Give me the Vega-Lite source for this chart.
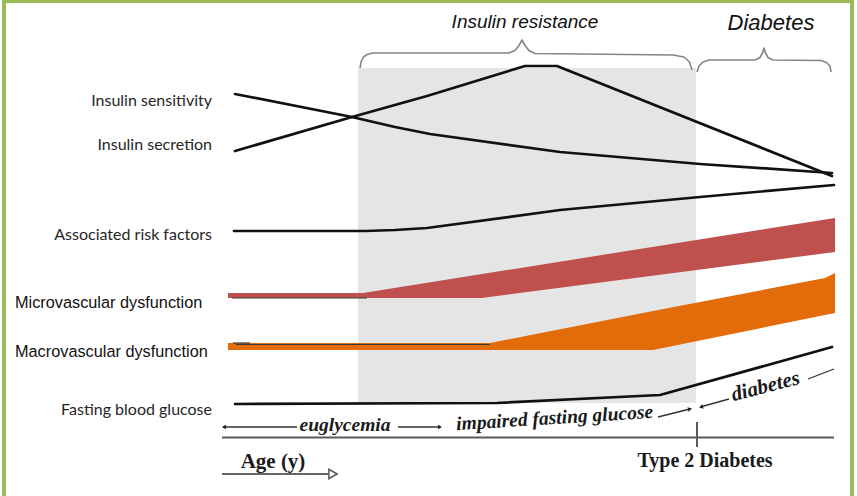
{
 "$schema": "https://vega.github.io/schema/vega-lite/v6.json",
 "width": 857, "height": 496, "padding": 0,
 "autosize": {"type": "none"},
 "background": "white",
 "config": {"view": {"stroke": null}},
 "datasets": {
  "frame": [{"x": 4, "y": 1, "x2": 852, "y2": 512}],
  "shade": [{"x": 358, "y": 68, "x2": 696, "y2": 403}],
  "braces": [
   {"id": "ir", "x": 360, "y": 68}, {"id": "ir", "x": 361, "y": 62}, {"id": "ir", "x": 363.5, "y": 57}, {"id": "ir", "x": 367, "y": 54.5}, {"id": "ir", "x": 373, "y": 53}, {"id": "ir", "x": 509, "y": 53}, {"id": "ir", "x": 515, "y": 50.5}, {"id": "ir", "x": 519, "y": 45.5}, {"id": "ir", "x": 522, "y": 40}, {"id": "ir", "x": 525, "y": 45.5}, {"id": "ir", "x": 529, "y": 50.5}, {"id": "ir", "x": 535, "y": 53.5}, {"id": "ir", "x": 673, "y": 55}, {"id": "ir", "x": 684, "y": 57}, {"id": "ir", "x": 689.5, "y": 62}, {"id": "ir", "x": 692, "y": 70},
   {"id": "dm", "x": 697, "y": 72}, {"id": "dm", "x": 699, "y": 66}, {"id": "dm", "x": 703, "y": 62}, {"id": "dm", "x": 709, "y": 60}, {"id": "dm", "x": 755, "y": 60}, {"id": "dm", "x": 760, "y": 57.5}, {"id": "dm", "x": 762.5, "y": 53}, {"id": "dm", "x": 764, "y": 48}, {"id": "dm", "x": 765.5, "y": 53}, {"id": "dm", "x": 768, "y": 57.5}, {"id": "dm", "x": 773, "y": 60}, {"id": "dm", "x": 821, "y": 60.5}, {"id": "dm", "x": 826.5, "y": 62.5}, {"id": "dm", "x": 830, "y": 66}, {"id": "dm", "x": 831, "y": 72}
  ],
  "curves": [
   {"s": "sens", "x": 235, "y": 94}, {"s": "sens", "x": 352, "y": 117}, {"s": "sens", "x": 395, "y": 127}, {"s": "sens", "x": 430, "y": 134}, {"s": "sens", "x": 560, "y": 152}, {"s": "sens", "x": 700, "y": 164}, {"s": "sens", "x": 832, "y": 173},
   {"s": "sec", "x": 235, "y": 151}, {"s": "sec", "x": 352, "y": 117}, {"s": "sec", "x": 427, "y": 96}, {"s": "sec", "x": 525, "y": 66}, {"s": "sec", "x": 557, "y": 66}, {"s": "sec", "x": 832, "y": 176},
   {"s": "risk", "x": 234, "y": 231}, {"s": "risk", "x": 365, "y": 231}, {"s": "risk", "x": 395, "y": 230}, {"s": "risk", "x": 427, "y": 228}, {"s": "risk", "x": 560, "y": 210}, {"s": "risk", "x": 700, "y": 197}, {"s": "risk", "x": 834, "y": 185},
   {"s": "fbg", "x": 235, "y": 404}, {"s": "fbg", "x": 497, "y": 403}, {"s": "fbg", "x": 660, "y": 395}, {"s": "fbg", "x": 832, "y": 347}
  ],
  "red": [{"x": 228, "y": 293, "y2": 298}, {"x": 363, "y": 293, "y2": 298}, {"x": 482, "y": 274, "y2": 298}, {"x": 835, "y": 218, "y2": 252}],
  "orange": [{"x": 228, "y": 343, "y2": 350}, {"x": 490, "y": 343, "y2": 350}, {"x": 653, "y": 311, "y2": 350}, {"x": 825, "y": 278, "y2": 315}, {"x": 835, "y": 273, "y2": 313}],
  "edges": [{"x": 232, "y": 298, "x2": 367, "y2": 298}, {"x": 236, "y": 344.5, "x2": 490, "y2": 344.5}, {"x": 233, "y": 343, "x2": 250, "y2": 343}],
  "arrows": [
   {"x": 223, "y": 427, "x2": 297, "y2": 427}, {"x": 398, "y": 427, "x2": 438, "y2": 427},
   {"x": 658, "y": 417, "x2": 688, "y2": 409.5}, {"x": 702, "y": 406.5, "x2": 729, "y2": 399},
   {"x": 808, "y": 379, "x2": 834, "y2": 369}, {"x": 222, "y": 474, "x2": 328, "y2": 474}
  ],
  "axisSegs": [{"x": 222, "y": 437.5, "x2": 834, "y2": 437.5}, {"x": 697, "y": 422, "x2": 697, "y2": 447}],
  "heads": [{"x": 224, "y": 427, "dir": 180}, {"x": 440, "y": 427, "dir": 0}, {"x": 690, "y": 409, "dir": -14}, {"x": 701, "y": 407, "dir": 165}],
  "ageHead": [{"x": 333, "y": 474}],
  "lblCal": [{"x": 212, "y": 106, "t": "Insulin sensitivity"}, {"x": 212, "y": 150, "t": "Insulin secretion"}, {"x": 212, "y": 240, "t": "Associated risk factors"}, {"x": 212, "y": 415, "t": "Fasting blood glucose"}],
  "lblArial": [{"x": 15, "y": 308, "t": "Microvascular dysfunction"}, {"x": 15, "y": 357, "t": "Macrovascular dysfunction"}],
  "phaseIR": [{"x": 525, "y": 28, "t": "Insulin resistance"}],
  "phaseDM": [{"x": 771, "y": 30, "t": "Diabetes"}],
  "eug": [{"x": 345, "y": 431, "t": "euglycemia"}],
  "ifg": [{"x": 555, "y": 424, "t": "impaired fasting glucose"}],
  "diab": [{"x": 767, "y": 392.5, "t": "diabetes"}],
  "age": [{"x": 273, "y": 468, "t": "Age (y)"}],
  "t2d": [{"x": 705, "y": 467, "t": "Type 2 Diabetes"}]
 },
 "encoding": {
  "x": {"field": "x", "type": "quantitative", "scale": {"domain": [0, 857], "nice": false, "zero": false}, "axis": null},
  "y": {"field": "y", "type": "quantitative", "scale": {"domain": [0, 496], "nice": false, "zero": false, "reverse": true}, "axis": null}
 },
 "layer": [
  {"data": {"name": "shade"}, "mark": {"type": "rect", "fill": "#e5e5e5"}, "encoding": {"x2": {"field": "x2"}, "y2": {"field": "y2"}}},
  {"data": {"name": "braces"}, "mark": {"type": "line", "stroke": "#858585", "strokeWidth": 1.6, "strokeJoin": "round"}, "encoding": {"detail": {"field": "id"}}},
  {"data": {"name": "red"}, "mark": {"type": "area", "fill": "#c0504d", "opacity": 1}, "encoding": {"y2": {"field": "y2"}}},
  {"data": {"name": "orange"}, "mark": {"type": "area", "fill": "#e36c0a", "opacity": 1}, "encoding": {"y2": {"field": "y2"}}},
  {"data": {"name": "edges"}, "mark": {"type": "rule", "stroke": "#3a3a3a", "strokeWidth": 1.2}, "encoding": {"x2": {"field": "x2"}, "y2": {"field": "y2"}}},
  {"data": {"name": "curves"}, "mark": {"type": "line", "stroke": "#111111", "strokeWidth": 2.7, "strokeJoin": "round", "strokeCap": "round"}, "encoding": {"detail": {"field": "s"}}},
  {"data": {"name": "axisSegs"}, "mark": {"type": "rule", "stroke": "#5a5a5a", "strokeWidth": 2}, "encoding": {"x2": {"field": "x2"}, "y2": {"field": "y2"}}},
  {"data": {"name": "arrows"}, "mark": {"type": "rule", "stroke": "#333333", "strokeWidth": 1.3}, "encoding": {"x2": {"field": "x2"}, "y2": {"field": "y2"}}},
  {"data": {"name": "heads"}, "mark": {"type": "point", "shape": "triangle-right", "filled": true, "fill": "#222222", "size": 22, "opacity": 1}, "encoding": {"angle": {"field": "dir", "type": "quantitative", "scale": null}}},
  {"data": {"name": "ageHead"}, "mark": {"type": "point", "shape": "triangle-right", "filled": false, "fill": "white", "stroke": "#555555", "strokeWidth": 1.5, "size": 90, "opacity": 1}},
  {"data": {"name": "frame"}, "mark": {"type": "rect", "fill": null, "stroke": "#9bbb59", "strokeWidth": 4}, "encoding": {"x2": {"field": "x2"}, "y2": {"field": "y2"}}},
  {"data": {"name": "lblCal"}, "mark": {"type": "text", "font": "Lato", "fontSize": 16, "align": "right", "baseline": "alphabetic", "fill": "#262626"}, "encoding": {"text": {"field": "t"}}},
  {"data": {"name": "lblArial"}, "mark": {"type": "text", "font": "Liberation Sans", "fontSize": 16.3, "align": "left", "baseline": "alphabetic", "fill": "#111111"}, "encoding": {"text": {"field": "t"}}},
  {"data": {"name": "phaseIR"}, "mark": {"type": "text", "font": "Liberation Sans", "fontStyle": "italic", "fontSize": 19, "align": "center", "baseline": "alphabetic", "fill": "#111111"}, "encoding": {"text": {"field": "t"}}},
  {"data": {"name": "phaseDM"}, "mark": {"type": "text", "font": "Liberation Sans", "fontStyle": "italic", "fontSize": 22, "align": "center", "baseline": "alphabetic", "fill": "#111111"}, "encoding": {"text": {"field": "t"}}},
  {"data": {"name": "eug"}, "mark": {"type": "text", "font": "Liberation Serif", "fontStyle": "italic", "fontWeight": "bold", "fontSize": 19.5, "align": "center", "baseline": "alphabetic", "fill": "#1a1a1a"}, "encoding": {"text": {"field": "t"}}},
  {"data": {"name": "ifg"}, "mark": {"type": "text", "font": "Liberation Serif", "fontStyle": "italic", "fontWeight": "bold", "fontSize": 19.5, "angle": -3.6, "align": "center", "baseline": "alphabetic", "fill": "#1a1a1a"}, "encoding": {"text": {"field": "t"}}},
  {"data": {"name": "diab"}, "mark": {"type": "text", "font": "Liberation Serif", "fontStyle": "italic", "fontWeight": "bold", "fontSize": 21, "angle": -14.5, "align": "center", "baseline": "alphabetic", "fill": "#1a1a1a"}, "encoding": {"text": {"field": "t"}}},
  {"data": {"name": "age"}, "mark": {"type": "text", "font": "Liberation Serif", "fontWeight": "bold", "fontSize": 21, "align": "center", "baseline": "alphabetic", "fill": "#1a1a1a"}, "encoding": {"text": {"field": "t"}}},
  {"data": {"name": "t2d"}, "mark": {"type": "text", "font": "Liberation Serif", "fontWeight": "bold", "fontSize": 20, "align": "center", "baseline": "alphabetic", "fill": "#1a1a1a"}, "encoding": {"text": {"field": "t"}}}
 ]
}
